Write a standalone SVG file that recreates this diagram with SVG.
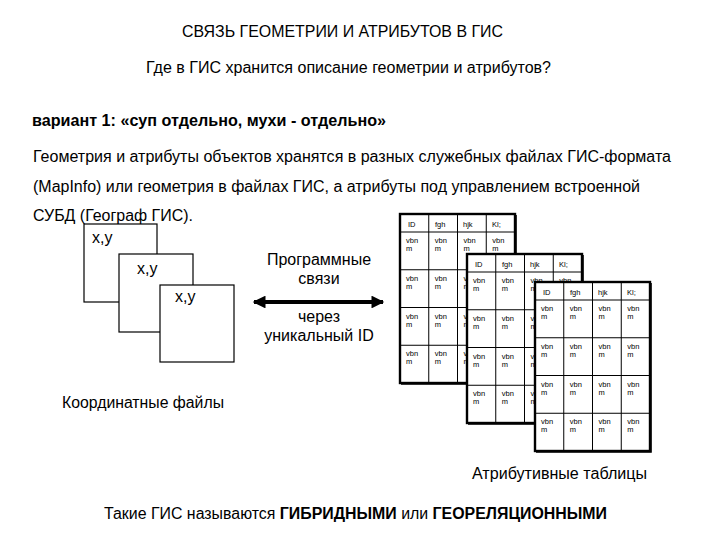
<svg xmlns="http://www.w3.org/2000/svg" xmlns:xlink="http://www.w3.org/1999/xlink" width="720" height="540" viewBox="0 0 720 540">
<style>
text{font-family:"Liberation Sans",Arial,sans-serif;fill:#000}
.t16{font-size:16px}
.b{font-weight:bold}
.cell{font-size:7.5px}
.box{fill:#fff;stroke:#000;stroke-width:1.2}
.grid{stroke:#000;stroke-width:1;fill:none}
.outer{fill:none;stroke:#000;stroke-width:2.4}
</style>
<defs>
<marker id="ah" viewBox="0 0 10 10" refX="9" refY="5" markerWidth="3.4" markerHeight="3.2" orient="auto-start-reverse" markerUnits="strokeWidth">
<path d="M0,0 L10,5 L0,10 z" fill="#000"/>
</marker>
<g id="table">
<rect x="0" y="0" width="115" height="169" fill="#fff"/>
<path class="grid" d="M28.75,0V169 M57.5,0V169 M86.25,0V169 M0,18H115 M0,55.75H115 M0,93.5H115 M0,131.25H115"/>
<rect class="outer" x="0" y="0" width="115" height="169"/>
<path d="M116.2,1V170.2H1" fill="none" stroke="#000" stroke-width="1.2"/>
<g class="cell">
<text x="8" y="12.5">ID</text><text x="35" y="12.5">fgh</text><text x="63" y="12.5">hjk</text><text x="92" y="12.5">Kl;</text>
<g id="row">
<text x="6" y="29">vbn</text><text x="6" y="37">m</text>
<text x="34.75" y="29">vbn</text><text x="34.75" y="37">m</text>
<text x="63.5" y="29">vbn</text><text x="63.5" y="37">m</text>
<text x="92.25" y="29">vbn</text><text x="92.25" y="37">m</text>
</g>
<use xlink:href="#row" y="37.75"/>
<use xlink:href="#row" y="75.5"/>
<use xlink:href="#row" y="113.25"/>
</g>
</g>
</defs>
<rect width="720" height="540" fill="#fff"/>

<g id="title"><text class="t16" x="182" y="37" textLength="321" lengthAdjust="spacingAndGlyphs">СВЯЗЬ ГЕОМЕТРИИ И АТРИБУТОВ В ГИС</text></g>
<g id="question"><text class="t16" x="146" y="73" textLength="405" lengthAdjust="spacingAndGlyphs">Где в ГИС хранится описание геометрии и атрибутов?</text></g>
<g id="variant"><text class="t16 b" x="32" y="126" textLength="354" lengthAdjust="spacingAndGlyphs">вариант 1: «суп отдельно, мухи - отдельно»</text></g>
<g id="description" class="t16">
<text x="33" y="162" textLength="638" lengthAdjust="spacingAndGlyphs">Геометрия и атрибуты объектов хранятся в разных служебных файлах ГИС-формата</text>
<text x="33" y="192" textLength="607" lengthAdjust="spacingAndGlyphs">(MapInfo) или геометрия в файлах ГИС, а атрибуты под управлением встроенной</text>
<text x="33" y="221" textLength="160" lengthAdjust="spacingAndGlyphs">СУБД (Географ ГИС).</text>
</g>

<g id="coord-file-1"><rect class="box" x="84" y="224" width="73" height="78"/><text class="t16" x="92" y="243">x,y</text></g>
<g id="coord-file-2"><rect class="box" x="119" y="254" width="74" height="78"/><text class="t16" x="137" y="274">x,y</text></g>
<g id="coord-file-3"><rect class="box" x="160" y="285" width="74" height="77"/><text class="t16" x="175" y="302">x,y</text></g>
<g id="coord-label"><text class="t16" x="62" y="408" textLength="162" lengthAdjust="spacingAndGlyphs">Координатные файлы</text></g>

<g id="link-label" class="t16" text-anchor="middle">
<text x="319" y="265">Программные</text>
<text x="319" y="284">связи</text>
<text x="319" y="322">через</text>
<text x="319" y="341">уникальный ID</text>
</g>

<g id="attr-table-1"><use xlink:href="#table" x="400" y="214"/></g>
<g id="attr-table-2"><use xlink:href="#table" x="467" y="254"/></g>
<g id="attr-table-3"><use xlink:href="#table" x="535" y="282"/></g>
<g id="attr-label"><text class="t16" x="472" y="479" textLength="175" lengthAdjust="spacingAndGlyphs">Атрибутивные таблицы</text></g>

<g id="conclusion"><text class="t16" x="104" y="519" textLength="503" lengthAdjust="spacingAndGlyphs">Такие ГИС называются <tspan class="b">ГИБРИДНЫМИ</tspan> или <tspan class="b">ГЕОРЕЛЯЦИОННЫМИ</tspan></text></g>

<g id="connectors">
<line x1="254" y1="302" x2="383" y2="302" stroke="#000" stroke-width="4" marker-start="url(#ah)" marker-end="url(#ah)"/>
</g>
</svg>
